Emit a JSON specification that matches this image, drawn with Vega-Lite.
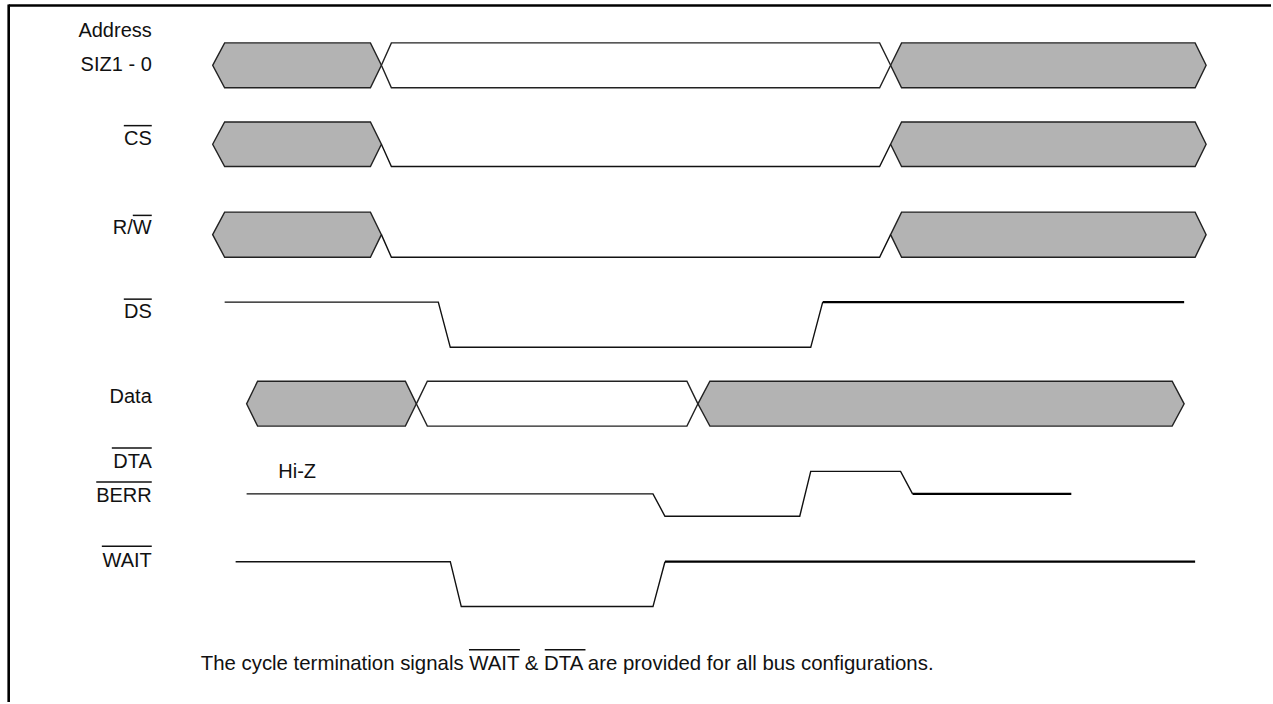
{
  "$schema": "https://vega.github.io/schema/vega-lite/v6.json",
  "width": 1273,
  "height": 704,
  "padding": 0,
  "autosize": {"type": "fit", "contains": "padding"},
  "background": "white",
  "config": {"view": {"stroke": null}},
  "datasets": {
    "gray": [
      {"id": "A1", "x": 213, "yt": 65.5, "yb": 65.5}, {"id": "A1", "x": 225, "yt": 43, "yb": 88}, {"id": "A1", "x": 371, "yt": 43, "yb": 88}, {"id": "A1", "x": 382, "yt": 65.5, "yb": 65.5},
      {"id": "A2", "x": 892, "yt": 65.5, "yb": 65.5}, {"id": "A2", "x": 903, "yt": 43, "yb": 88}, {"id": "A2", "x": 1197, "yt": 43, "yb": 88}, {"id": "A2", "x": 1208, "yt": 65.5, "yb": 65.5},
      {"id": "C1", "x": 213, "yt": 144.7, "yb": 144.7}, {"id": "C1", "x": 225, "yt": 122.3, "yb": 167}, {"id": "C1", "x": 371, "yt": 122.3, "yb": 167}, {"id": "C1", "x": 382, "yt": 144.7, "yb": 144.7},
      {"id": "C2", "x": 892, "yt": 144.7, "yb": 144.7}, {"id": "C2", "x": 903, "yt": 122.3, "yb": 167}, {"id": "C2", "x": 1197, "yt": 122.3, "yb": 167}, {"id": "C2", "x": 1208, "yt": 144.7, "yb": 144.7},
      {"id": "R1", "x": 213, "yt": 235.3, "yb": 235.3}, {"id": "R1", "x": 225, "yt": 212.7, "yb": 258}, {"id": "R1", "x": 371, "yt": 212.7, "yb": 258}, {"id": "R1", "x": 382, "yt": 235.3, "yb": 235.3},
      {"id": "R2", "x": 892, "yt": 235.3, "yb": 235.3}, {"id": "R2", "x": 903, "yt": 212.7, "yb": 258}, {"id": "R2", "x": 1197, "yt": 212.7, "yb": 258}, {"id": "R2", "x": 1208, "yt": 235.3, "yb": 235.3},
      {"id": "D1", "x": 247, "yt": 405, "yb": 405}, {"id": "D1", "x": 258, "yt": 382.3, "yb": 427.3}, {"id": "D1", "x": 406, "yt": 382.3, "yb": 427.3}, {"id": "D1", "x": 417, "yt": 405, "yb": 405},
      {"id": "D2", "x": 699, "yt": 405, "yb": 405}, {"id": "D2", "x": 711, "yt": 382.3, "yb": 427.3}, {"id": "D2", "x": 1174, "yt": 382.3, "yb": 427.3}, {"id": "D2", "x": 1186, "yt": 405, "yb": 405}
    ],
    "white": [
      {"id": "AW", "x": 382, "yt": 65.5, "yb": 65.5}, {"id": "AW", "x": 392, "yt": 43, "yb": 88}, {"id": "AW", "x": 881, "yt": 43, "yb": 88}, {"id": "AW", "x": 892, "yt": 65.5, "yb": 65.5},
      {"id": "DW", "x": 417, "yt": 405, "yb": 405}, {"id": "DW", "x": 428, "yt": 382.3, "yb": 427.3}, {"id": "DW", "x": 688, "yt": 382.3, "yb": 427.3}, {"id": "DW", "x": 699, "yt": 405, "yb": 405}
    ],
    "thin": [
      {"id": "CS", "o": 1, "x": 382, "y": 144.7}, {"id": "CS", "o": 2, "x": 392, "y": 167}, {"id": "CS", "o": 3, "x": 881, "y": 167}, {"id": "CS", "o": 4, "x": 892, "y": 144.7},
      {"id": "RW", "o": 1, "x": 382, "y": 235.3}, {"id": "RW", "o": 2, "x": 392, "y": 258}, {"id": "RW", "o": 3, "x": 881, "y": 258}, {"id": "RW", "o": 4, "x": 892, "y": 235.3},
      {"id": "DS", "o": 1, "x": 225, "y": 303}, {"id": "DS", "o": 2, "x": 439, "y": 303}, {"id": "DS", "o": 3, "x": 451, "y": 348.3}, {"id": "DS", "o": 4, "x": 812, "y": 348.3}, {"id": "DS", "o": 5, "x": 824, "y": 303},
      {"id": "DTA", "o": 1, "x": 247, "y": 495.3}, {"id": "DTA", "o": 2, "x": 654, "y": 495.3}, {"id": "DTA", "o": 3, "x": 666, "y": 517.7}, {"id": "DTA", "o": 4, "x": 801, "y": 517.7}, {"id": "DTA", "o": 5, "x": 812, "y": 472.7}, {"id": "DTA", "o": 6, "x": 902, "y": 472.7}, {"id": "DTA", "o": 7, "x": 914, "y": 495.3},
      {"id": "WAIT", "o": 1, "x": 236, "y": 563.3}, {"id": "WAIT", "o": 2, "x": 451, "y": 563.3}, {"id": "WAIT", "o": 3, "x": 462, "y": 608.3}, {"id": "WAIT", "o": 4, "x": 654, "y": 608.3}, {"id": "WAIT", "o": 5, "x": 666, "y": 563.3}
    ],
    "thick": [
      {"id": "DS", "o": 1, "x": 824, "y": 303}, {"id": "DS", "o": 2, "x": 1186, "y": 303},
      {"id": "DTA", "o": 1, "x": 914, "y": 495.3}, {"id": "DTA", "o": 2, "x": 1073, "y": 495.3},
      {"id": "WAIT", "o": 1, "x": 666, "y": 563.3}, {"id": "WAIT", "o": 2, "x": 1197, "y": 563.3}
    ],
    "frame": [
      {"x": 8.7, "x2": 8.7, "y": 4.5, "y2": 704},
      {"x": 8.7, "x2": 1273, "y": 5.5, "y2": 5.5}
    ],
    "overlines": [
      {"x": 124, "x2": 152, "y": 126},
      {"x": 133, "x2": 152, "y": 216},
      {"x": 124, "x2": 152, "y": 300},
      {"x": 112, "x2": 152, "y": 449.3},
      {"x": 96.4, "x2": 152, "y": 483.3},
      {"x": 102, "x2": 152, "y": 547.7},
      {"x": 469.7, "x2": 520.7, "y": 651.7},
      {"x": 545.6, "x2": 586.4, "y": 651.7}
    ],
    "labels": [
      {"label": "Address", "x": 152, "y": 36.7},
      {"label": "SIZ1 - 0", "x": 152, "y": 71.7},
      {"label": "CS", "x": 152, "y": 145},
      {"label": "R/W", "x": 152, "y": 235},
      {"label": "DS", "x": 152, "y": 319.3},
      {"label": "Data", "x": 152, "y": 404},
      {"label": "DTA", "x": 152, "y": 469.3},
      {"label": "BERR", "x": 152, "y": 503.3},
      {"label": "WAIT", "x": 152, "y": 568.3}
    ],
    "hiz": [
      {"label": "Hi-Z", "x": 278.7, "y": 479}
    ],
    "caption": [
      {"label": "The cycle termination signals WAIT & DTA are provided for all bus configurations.", "x": 201, "y": 671.7}
    ]
  },
  "encoding": {
    "x": {"field": "x", "type": "quantitative", "scale": {"domain": [0, 1273], "nice": false, "zero": false}, "axis": null},
    "y": {"field": "y", "type": "quantitative", "scale": {"domain": [0, 704], "nice": false, "zero": false, "reverse": true}, "axis": null}
  },
  "layer": [
    {
      "data": {"name": "frame"},
      "mark": {"type": "rule", "stroke": "#000000", "strokeWidth": 2.6},
      "encoding": {"x2": {"field": "x2"}, "y2": {"field": "y2"}}
    },
    {
      "data": {"name": "gray"},
      "mark": {"type": "area", "fill": "#b3b3b3", "fillOpacity": 1, "stroke": "#222222", "strokeWidth": 1.4},
      "encoding": {"y": {"field": "yt", "type": "quantitative"}, "y2": {"field": "yb"}, "detail": {"field": "id"}}
    },
    {
      "data": {"name": "white"},
      "mark": {"type": "area", "fill": "#ffffff", "fillOpacity": 1, "stroke": "#222222", "strokeWidth": 1.4},
      "encoding": {"y": {"field": "yt", "type": "quantitative"}, "y2": {"field": "yb"}, "detail": {"field": "id"}}
    },
    {
      "data": {"name": "thin"},
      "mark": {"type": "line", "stroke": "#111111", "strokeWidth": 1.4},
      "encoding": {"detail": {"field": "id"}, "order": {"field": "o", "type": "quantitative"}}
    },
    {
      "data": {"name": "thick"},
      "mark": {"type": "line", "stroke": "#000000", "strokeWidth": 2.2},
      "encoding": {"detail": {"field": "id"}, "order": {"field": "o", "type": "quantitative"}}
    },
    {
      "data": {"name": "overlines"},
      "mark": {"type": "rule", "stroke": "#111111", "strokeWidth": 1.5},
      "encoding": {"x2": {"field": "x2"}}
    },
    {
      "data": {"name": "labels"},
      "mark": {"type": "text", "align": "right", "baseline": "alphabetic", "font": "Liberation Sans", "fontSize": 20, "color": "#111111"},
      "encoding": {"text": {"field": "label"}}
    },
    {
      "data": {"name": "hiz"},
      "mark": {"type": "text", "align": "left", "baseline": "alphabetic", "font": "Liberation Sans", "fontSize": 20, "color": "#111111"},
      "encoding": {"text": {"field": "label"}}
    },
    {
      "data": {"name": "caption"},
      "mark": {"type": "text", "align": "left", "baseline": "alphabetic", "font": "Liberation Sans", "fontSize": 20.4, "color": "#111111"},
      "encoding": {"text": {"field": "label"}}
    }
  ]
}
